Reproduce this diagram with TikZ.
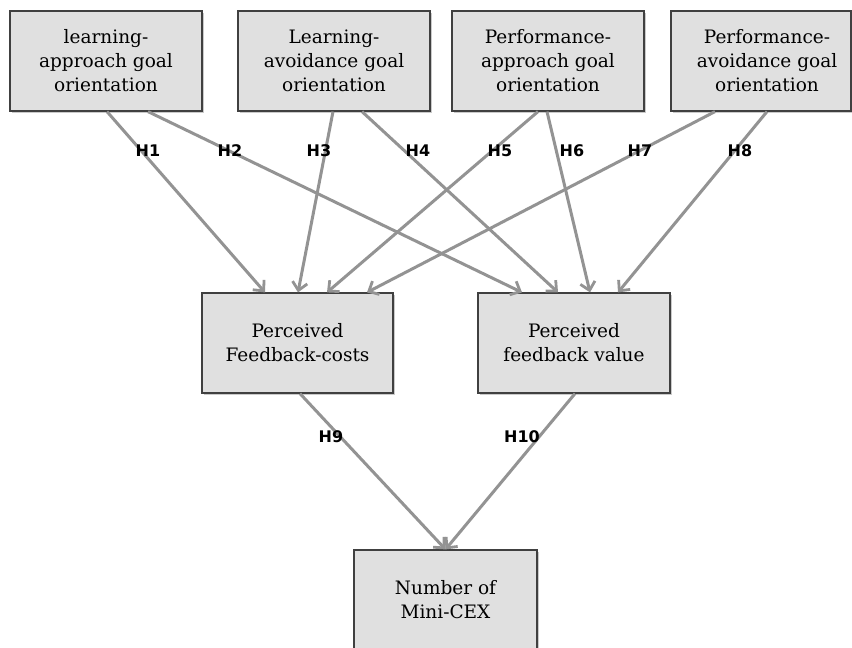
\documentclass[tikz,border=0pt]{standalone}
\usepackage{fontspec}
\setmainfont{DejaVu Serif}
\newfontfamily\labfont{DejaVu Sans}
\usetikzlibrary{arrows.meta,shadows}
\definecolor{boxfill}{HTML}{E0E0E0}
\definecolor{boxline}{HTML}{404040}
\definecolor{arrowgray}{HTML}{939393}
\begin{document}
\begin{tikzpicture}[x=1pt,y=-1pt,
  box/.style={draw=boxline, line width=1.2pt, fill=boxfill, minimum width=192pt, minimum height=100pt,
    inner sep=0pt, align=center, font=\fontsize{18.5}{24}\selectfont,
    drop shadow={shadow xshift=1.5pt, shadow yshift=-1.5pt, opacity=0.35, fill=black!60}},
  hyp/.style={draw=arrowgray, line width=3pt, -{Straight Barb[length=8pt,width=15pt,line width=2.8pt]}},
  hlab/.style={font=\labfont\bfseries\fontsize{16}{19}\selectfont, inner sep=0pt}]
\useasboundingbox (0,0) rectangle (852,648);
\begin{scope}
\clip (0,0) rectangle (852,648);
\node[box] (b1) at (106,61) {learning-\\approach goal\\orientation};
\node[box] (b2) at (334,61) {Learning-\\avoidance goal\\orientation};
\node[box] (b3) at (548,61) {Performance-\\approach goal\\orientation};
\node[box, minimum width=180pt] (b4) at (761,61) {};
\node[align=center, font=\fontsize{18.5}{24}\selectfont, inner sep=0pt] (t4) at (767,61) {Performance-\\avoidance goal\\orientation};
\node[box, minimum width=191pt] (fc) at (297.5,343) {Perceived\\Feedback-costs};
\node[box] (fv) at (574,343) {Perceived\\feedback value};
\node[box, minimum width=183pt] (mc) at (445.5,600) {Number of\\Mini-CEX};
\end{scope}

\draw[hyp] ([xshift=1pt]b1.south) -- ([xshift=-32.5pt]fc.north);
\draw[hyp] ([xshift=42pt]b1.south) -- ([xshift=-52pt]fv.north);
\draw[hyp] ([xshift=-1pt]b2.south) -- ([xshift=0.5pt]fc.north);
\draw[hyp] ([xshift=28pt]b2.south) -- ([xshift=-16pt]fv.north);
\draw[hyp] ([xshift=-10pt]b3.south) -- ([xshift=29.5pt]fc.north);
\draw[hyp] ([xshift=-1pt]b3.south) -- ([xshift=16pt]fv.north);
\draw[hyp] ([xshift=-46pt]b4.south) -- ([xshift=69.5pt]fc.north);
\draw[hyp] ([xshift=6pt]b4.south) -- ([xshift=44pt]fv.north);
\draw[hyp] ([xshift=2.5pt]fc.south) -- (mc.north);
\draw[hyp] ([xshift=1pt]fv.south) -- (mc.north);

\node[hlab] (h1) at (148,151) {H1};
\node[hlab] (h2) at (230,151) {H2};
\node[hlab] (h3) at (319,151) {H3};
\node[hlab] (h4) at (418,151) {H4};
\node[hlab] (h5) at (500,151) {H5};
\node[hlab] (h6) at (572,151) {H6};
\node[hlab] (h7) at (640,151) {H7};
\node[hlab] (h8) at (740,151) {H8};
\node[hlab] (h9) at (331,437) {H9};
\node[hlab] (h10) at (522,437) {H10};
\end{tikzpicture}
\end{document}
